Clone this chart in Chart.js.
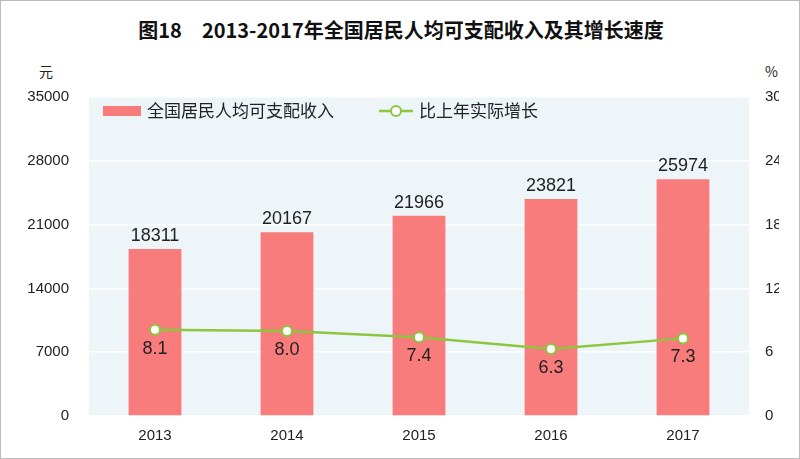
<!DOCTYPE html>
<html><head><meta charset="utf-8">
<script src="https://cdn.jsdelivr.net/npm/chart.js@4"></script>
<style>
body{margin:0;background:#fff;font-family:"Noto Sans CJK SC",sans-serif;}
#wrap{position:relative;width:798px;height:457px;border:1px solid #bbb;}
#title{position:absolute;top:14px;left:0;width:800px;text-align:center;font-size:20px;font-weight:bold;color:#111;}
.unit{position:absolute;top:60px;font-size:14px;color:#222;}
#c{position:absolute;left:0;top:0;}
</style></head><body>
<div id="wrap">
<div id="title">图18　2013-2017年全国居民人均可支配收入及其增长速度</div>
<div class="unit" style="left:38px">元</div>
<div class="unit" style="left:764px">%</div>
<canvas id="c" width="798" height="457"></canvas>
</div>
<script>
const years = ["2013", "2014", "2015", "2016", "2017"];
const income = [18311, 20167, 21966, 23821, 25974];
const growth = [8.1, 8.0, 7.4, 6.3, 7.3];

const bgPlugin = {
    id: "bg",
    beforeDraw(chart) {
        const { ctx, chartArea: a } = chart;
        ctx.save();
        ctx.fillStyle = "#eef5f9";
        ctx.fillRect(a.left, a.top, a.right - a.left, a.bottom - a.top);
        ctx.restore();
    }
};

const labelPlugin = {
    id: "labels",
    afterDatasetsDraw(chart) {
        const ctx = chart.ctx;
        const a = chart.chartArea;
        ctx.save();
        ctx.font = "18px Arial, 'Liberation Sans', sans-serif";
        ctx.fillStyle = "#222";
        ctx.textAlign = "center";
        chart.getDatasetMeta(0).data.forEach((bar, i) => {
            ctx.textBaseline = "bottom";
            ctx.fillText(String(income[i]), bar.x, bar.y - 4);
        });
        chart.getDatasetMeta(1).data.forEach((pt, i) => {
            ctx.textBaseline = "top";
            ctx.fillText(growth[i].toFixed(1), pt.x, pt.y + 10);
        });
        // legend
        const ly = a.top + 14;
        ctx.fillStyle = "#f87c7c";
        ctx.fillRect(a.left + 14, ly - 5, 38, 10);
        ctx.font = "17px 'Noto Sans CJK SC'";
        ctx.fillStyle = "#222";
        ctx.textAlign = "left";
        ctx.textBaseline = "middle";
        ctx.fillText(chart.data.datasets[0].label, a.left + 58, ly);
        const lx = a.left + 290;
        ctx.strokeStyle = "#8cc63f";
        ctx.lineWidth = 2.5;
        ctx.beginPath(); ctx.moveTo(lx, ly); ctx.lineTo(lx + 34, ly); ctx.stroke();
        ctx.fillStyle = "#fff";
        ctx.lineWidth = 2;
        ctx.beginPath(); ctx.arc(lx + 17, ly, 5, 0, Math.PI * 2); ctx.fill(); ctx.stroke();
        ctx.fillStyle = "#222";
        ctx.fillText(chart.data.datasets[1].label, lx + 40, ly);
        ctx.restore();
    }
};

new Chart(document.getElementById("c"), {
    type: "bar",
    data: {
        labels: years,
        datasets: [
            {
                label: "全国居民人均可支配收入",
                data: income,
                backgroundColor: "#f87c7c",
                barPercentage: 0.4,
                categoryPercentage: 1,
                yAxisID: "y",
                order: 2
            },
            {
                type: "line",
                label: "比上年实际增长",
                data: growth,
                borderColor: "#8cc63f",
                backgroundColor: "#fff",
                borderWidth: 2.5,
                pointRadius: 5,
                pointBorderWidth: 2,
                yAxisID: "y1",
                order: 1
            }
        ]
    },
    options: {
        responsive: false,
        animation: false,
        layout: { padding: { top: 96, left: 14, right: 20, bottom: 10 } },
        plugins: {
            legend: { display: false },
            tooltip: { enabled: false }
        },
        scales: {
            x: {
                grid: { display: false },
                border: { display: false },
                ticks: { color: "#222", font: { size: 15 } }
            },
            y: {
                min: 0, max: 35000,
                afterFit(s) { s.width = 74; },
                ticks: { stepSize: 7000, color: "#222", font: { size: 15 }, padding: 12, callback: v => String(v) },
                grid: { color: "#fff", lineWidth: 1.5 },
                border: { display: false }
            },
            y1: {
                position: "right",
                min: 0, max: 30,
                afterFit(s) { s.width = 30; },
                ticks: { stepSize: 6, color: "#222", font: { size: 15 }, padding: 8 },
                grid: { display: false },
                border: { display: false }
            }
        }
    },
    plugins: [bgPlugin, labelPlugin]
});
</script>
</body></html>
